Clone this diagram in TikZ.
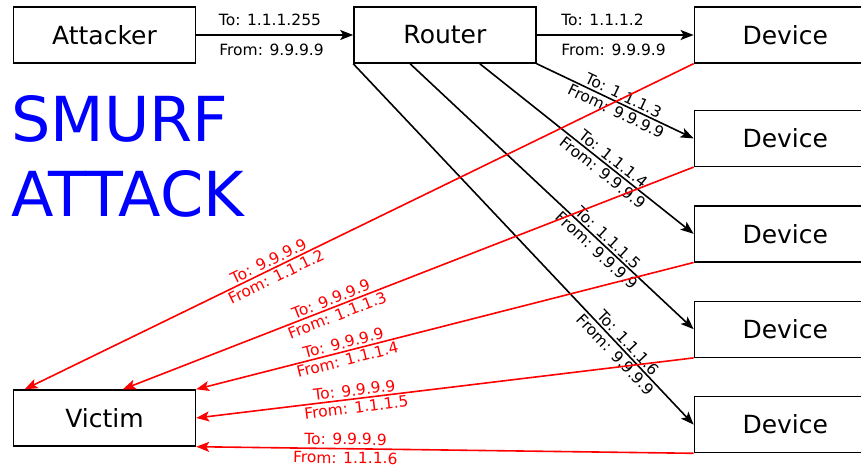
\documentclass[tikz,border=0pt]{standalone}
\usepackage{fontspec}
\setmainfont{DejaVu Sans}
\usetikzlibrary{arrows.meta,calc,positioning}

\begin{document}
\begin{tikzpicture}[x=1pt,y=-1pt,
    box/.style={draw,line width=1.4pt,minimum width=182pt,minimum height=56pt,inner sep=0pt,font=\fontsize{25}{30}\selectfont},
    pkt/.style={-{Stealth[length=13pt,width=10pt,inset=3pt]},line width=1.6pt},
    lbl/.style={font=\fontsize{15.5}{18}\selectfont,inner sep=2pt,sloped},
    wide/.style={lbl,inner sep=8pt}]

		    \definecolor{smurfblue}{rgb}{0.00,0.00,1.00}
		    \definecolor{replyred}{rgb}{1.00,0.00,0.00}
		    \useasboundingbox (0,0) rectangle (861,465);
		    \clip (0,0) rectangle (861,465);

		    \node(attacker) [box] at (104.5,35) {Attacker};
		    \node(router) [box,right=157pt of attacker] {Router};
		    \node(dev1) [box,right=157pt of router] {Device};
		    \node(dev2) [box,below=46pt of dev1] {Device};
		    \node(dev3) [box,below=38pt of dev2] {Device};
		    \node(dev4) [box,below=38pt of dev3] {Device};
		    \node(dev5) [box,below=38pt of dev4] {Device};
		    \node(victim) [box] at (104.5,418) {Victim};

		    \node(title) [anchor=north west,align=left,text=smurfblue,inner sep=0pt,font=\fontsize{62}{75}\selectfont] at (11,95) {SMURF\\ATTACK};

		    % broadcast ping
		    \draw[pkt] (attacker.east) -- (router.west)
		        node[wide,above,pos=0.47] {To: 1.1.1.255} node[wide,below,pos=0.48] {From: 9.9.9.9};
		    \draw[pkt] (router.east) -- (dev1.west)
		        node[wide,above,pos=0.42] {To: 1.1.1.2} node[wide,below,pos=0.49] {From: 9.9.9.9};
		    \draw[pkt] (router.south east) -- (dev2.west)
		        node[lbl,above,pos=0.53] {To: 1.1.1.3} node[lbl,below,pos=0.53] {From: 9.9.9.9};
		    \draw[pkt] ($(router.south west)!0.69!(router.south east)$) -- (dev3.west)
		        node[lbl,above,pos=0.6] {To: 1.1.1.4} node[lbl,below,pos=0.6] {From: 9.9.9.9};
		    \draw[pkt] ($(router.south west)!0.31!(router.south east)$) -- (dev4.west)
		        node[lbl,above,pos=0.68] {To: 1.1.1.5} node[lbl,below,pos=0.68] {From: 9.9.9.9};
		    \draw[pkt] (router.south west) -- (dev5.west)
		        node[lbl,above,pos=0.79] {To: 1.1.1.6} node[lbl,below,pos=0.79] {From: 9.9.9.9};

		    % replies to the victim
		    \begin{scope}[replyred]
		    \draw[pkt] (dev1.south west) -- ($(victim.north west)!0.065!(victim.north east)$)
		        node[lbl,above,pos=0.63] {To: 9.9.9.9} node[lbl,below,pos=0.63] {From: 1.1.1.2};
		    \draw[pkt] (dev2.south west) -- ($(victim.north west)!0.6!(victim.north east)$)
		        node[lbl,above,pos=0.63] {To: 9.9.9.9} node[lbl,below,pos=0.63] {From: 1.1.1.3};
		    \draw[pkt] (dev3.south west) -- (victim.north east)
		        node[lbl,above,pos=0.7] {To: 9.9.9.9} node[lbl,below,pos=0.7] {From: 1.1.1.4};
		    \draw[pkt] (dev4.south west) -- (victim.east)
		        node[lbl,above,pos=0.68] {To: 9.9.9.9} node[lbl,below,pos=0.68] {From: 1.1.1.5};
		    \draw[pkt] (dev5.south west) -- (victim.south east)
		        node[lbl,above,pos=0.7,inner sep=3pt] {To: 9.9.9.9} node[lbl,below,pos=0.7,inner sep=2.5pt] {From: 1.1.1.6};
		    \end{scope}

\end{tikzpicture}
\end{document}
